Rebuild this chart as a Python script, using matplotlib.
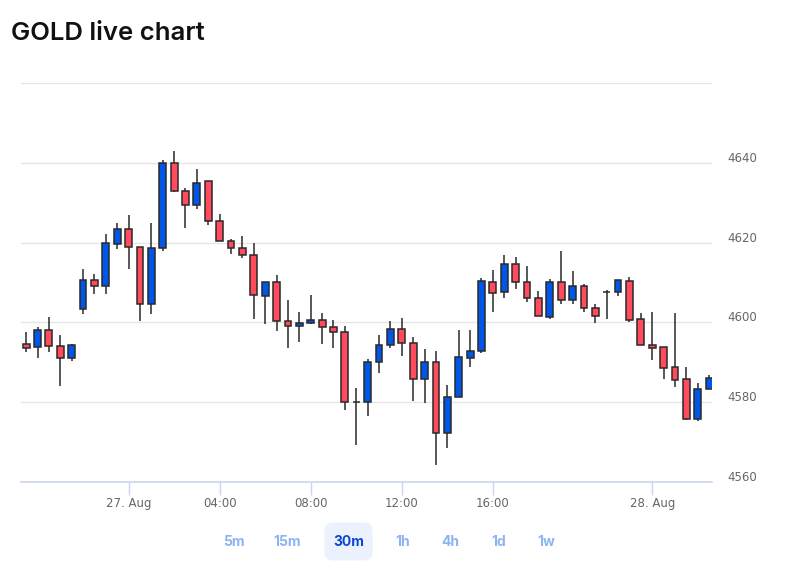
import numpy as np
import matplotlib.pyplot as plt
from matplotlib.patches import FancyBboxPatch
from matplotlib.transforms import ScaledTranslation

# 30m candles, GOLD
opens = [4594.6, 4593.7, 4598.2, 4594.0, 4591.1, 4603.3, 4610.7, 4609.0, 4619.7, 4623.5,
         4618.9, 4604.7, 4618.6, 4639.9, 4633.0, 4629.4, 4635.4, 4625.5, 4620.5, 4618.6,
         4616.9, 4606.7, 4610.2, 4600.3, 4599.1, 4599.8, 4600.6, 4598.8, 4597.7, 4580.1,
         4580.1, 4590.0, 4594.3, 4598.3, 4594.9, 4585.7, 4590.1, 4572.2, 4581.2, 4591.1,
         4592.9, 4610.1, 4607.6, 4614.7, 4610.1, 4606.1, 4601.3, 4610.1, 4605.5, 4609.0,
         4603.6, 4607.5, 4607.6, 4610.5, 4600.8, 4594.3, 4593.8, 4588.7, 4585.8, 4575.8,
         4583.2]
closes = [4593.6, 4598.2, 4594.0, 4591.1, 4594.3, 4610.7, 4609.0, 4619.8, 4623.5, 4618.9,
          4604.7, 4618.6, 4639.9, 4633.0, 4629.4, 4635.1, 4625.4, 4620.3, 4618.6, 4616.9,
          4606.8, 4610.2, 4600.3, 4599.1, 4599.9, 4600.6, 4598.8, 4597.7, 4580.1, 4580.1,
          4590.1, 4594.3, 4598.3, 4594.9, 4585.7, 4590.1, 4572.2, 4581.3, 4591.2, 4592.9,
          4610.4, 4607.3, 4614.7, 4610.1, 4606.2, 4601.6, 4610.1, 4605.6, 4609.0, 4603.6,
          4601.7, 4607.5, 4610.7, 4600.7, 4594.2, 4593.6, 4588.6, 4585.6, 4575.8, 4583.2,
          4586.1]
highs = [4597.7, 4598.9, 4601.4, 4596.7, 4594.6, 4613.3, 4612.2, 4622.1, 4625.0, 4626.9,
         4618.9, 4625.0, 4640.8, 4643.0, 4633.6, 4638.5, 4635.4, 4627.2, 4620.9, 4621.6,
         4619.8, 4610.2, 4612.0, 4605.7, 4602.6, 4606.9, 4602.3, 4600.7, 4599.1, 4583.6,
         4590.7, 4596.9, 4600.3, 4601.2, 4596.4, 4593.3, 4592.9, 4584.2, 4598.1, 4598.1,
         4611.2, 4613.1, 4616.8, 4616.5, 4614.2, 4607.9, 4611.0, 4617.8, 4612.8, 4609.7,
         4604.6, 4608.1, 4610.7, 4611.4, 4602.3, 4602.6, 4593.8, 4602.3, 4588.9, 4584.8,
         4586.9]
lows = [4592.5, 4591.1, 4592.5, 4584.0, 4590.3, 4602.1, 4607.0, 4607.0, 4618.3, 4613.4,
        4600.3, 4602.1, 4617.9, 4632.6, 4623.6, 4628.4, 4624.5, 4620.3, 4617.1, 4616.2,
        4600.9, 4599.7, 4597.9, 4593.6, 4595.0, 4599.7, 4594.5, 4593.6, 4578.0, 4569.2,
        4576.4, 4587.3, 4593.5, 4591.6, 4580.3, 4579.7, 4564.3, 4568.4, 4581.2, 4588.8,
        4592.2, 4602.5, 4606.1, 4608.3, 4605.2, 4601.6, 4600.9, 4604.5, 4604.7, 4602.6,
        4599.8, 4600.9, 4606.6, 4600.2, 4594.2, 4590.5, 4585.7, 4583.7, 4575.6, 4575.2,
        4583.2]

tick_idx = [9, 17, 25, 33, 41, 55]
tick_labels = ['27. Aug', '04:00', '08:00', '12:00', '16:00', '28. Aug']
price_ticks = [4560, 4580, 4600, 4620, 4640, 4660]
periods = ['5m', '15m', '30m', '1h', '4h', '1d', '1w']
selected = '30m'

up_color = '#0057e7'
down_color = '#ff4b5c'

fig = plt.figure(figsize=(7.88, 5.78), dpi=100)
ax = fig.add_axes([21 / 788, 96.3 / 578, 691 / 788, 398.4 / 578])

o = np.array(opens)
c = np.array(closes)
x = np.arange(len(o))
colors = [up_color if cc > oo else down_color for oo, cc in zip(o, c)]

# wicks then bodies
ax.vlines(x, lows, highs, color='#2a2a2a', linewidth=1.1, zorder=2)
ax.bar(x, c - o, bottom=o, width=0.6, color=colors, edgecolor='#2a2a2a',
       linewidth=1.1, zorder=3)

ax.set_xlim(-0.45, 60.25)
ax.set_ylim(4560, 4660)

ax.set_yticks(price_ticks)
ax.set_yticklabels([str(p) if p < 4660 else '' for p in price_ticks])
ax.yaxis.tick_right()
ax.tick_params(axis='y', length=0, pad=11, labelsize=8.5, labelcolor='#666666')
for lab in ax.get_yticklabels():
    lab.set_horizontalalignment('left')
    lab.set_transform(lab.get_transform() + ScaledTranslation(0, 6 / 100, fig.dpi_scale_trans))
ax.grid(axis='y', color='#e6e6e6', linewidth=1.0)
ax.set_axisbelow(True)

ax.set_xticks(tick_idx)
ax.set_xticklabels(tick_labels)
ax.tick_params(axis='x', length=9, width=1, color='#ccd6eb', pad=2,
               labelsize=8.5, labelcolor='#666666')

for side in ['top', 'right', 'left']:
    ax.spines[side].set_visible(False)
ax.spines['bottom'].set_color('#ccd6eb')
ax.spines['bottom'].set_linewidth(1.2)

fig.text(11 / 788, 1 - 33 / 578, 'GOLD live chart', fontsize=18.5, fontweight='semibold',
         family='Inter', color='#111111', va='center', ha='left')

# period selector
btn_x = [234, 287.3, 348.7, 402.3, 450.3, 499, 546.7]
box = FancyBboxPatch((324.5 / 788, 1 - 560.5 / 578), 48 / 788, 38 / 578,
                     boxstyle='round,pad=0,rounding_size=0.012',
                     transform=fig.transFigure, facecolor='#ebf2fe', edgecolor='none')
fig.patches.append(box)
for p, bx in zip(periods, btn_x):
    fig.text(bx / 788, 1 - 542.5 / 578, p, fontsize=10, fontweight='bold', family='Inter',
             color='#0a47d1' if p == selected else '#8db3f2', ha='center', va='center')

fig.savefig('out.png', dpi=100)
